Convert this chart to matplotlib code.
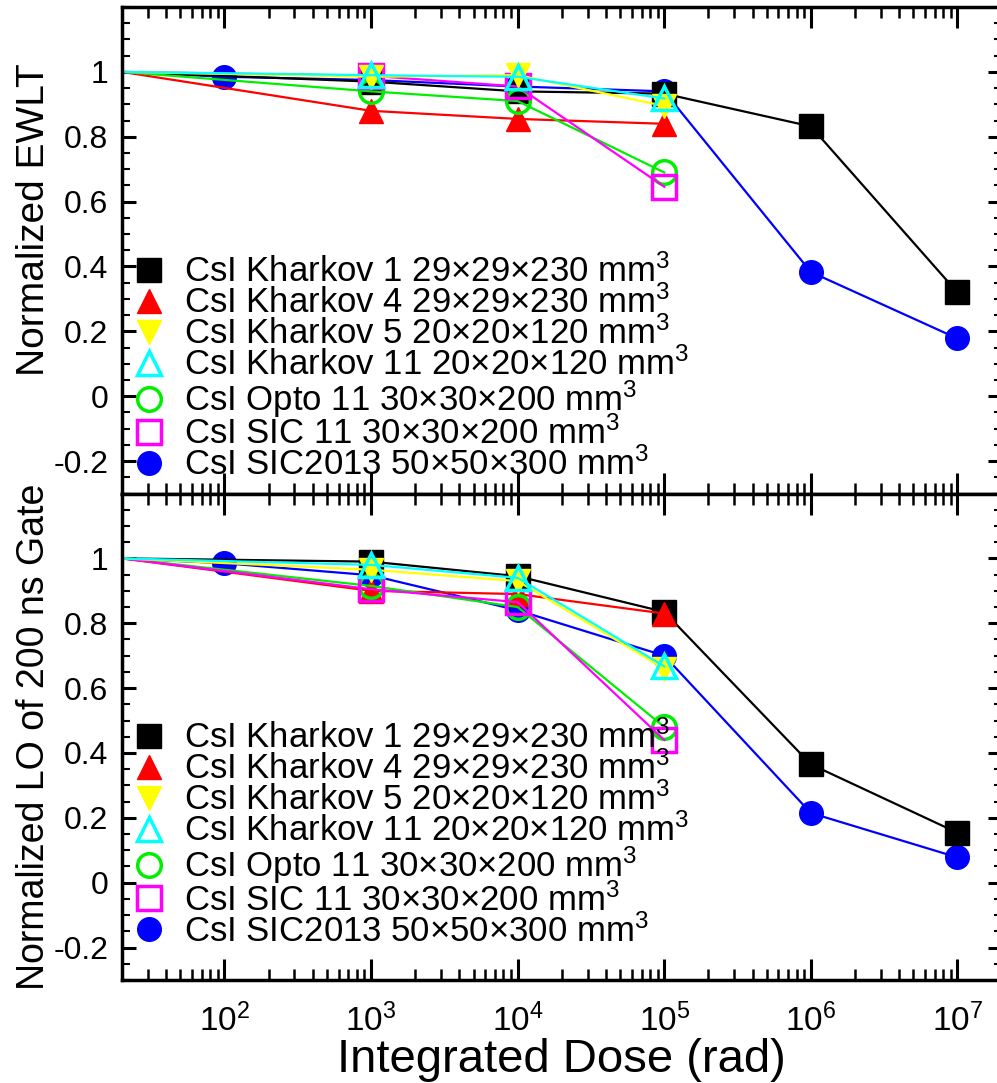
import numpy as np
import matplotlib.pyplot as plt
from matplotlib.lines import Line2D
from matplotlib.ticker import LogLocator, NullFormatter, MultipleLocator, FixedLocator, FuncFormatter

plt.rcParams['font.family'] = ['Liberation Sans', 'DejaVu Sans']
plt.rcParams['mathtext.fontset'] = 'custom'
plt.rcParams['mathtext.rm'] = 'Liberation Sans'
plt.rcParams['mathtext.it'] = 'Liberation Sans:italic'
plt.rcParams['axes.unicode_minus'] = False

# dose points (rad); first point = unirradiated reference at left edge (no marker)
dose_short = [20, 1e3, 1e4, 1e5]
dose_long = [20, 1e3, 1e4, 1e5, 1e6, 1e7]
dose_sic2013 = [20, 1e2, 1e3, 1e4, 1e5, 1e6, 1e7]

# normalized EWLT (top)
ewlt_kharkov1 = [1, 0.97, 0.94, 0.933, 0.832, 0.32]
ewlt_kharkov4 = [1, 0.88, 0.855, 0.84]
ewlt_kharkov5 = [1, 0.985, 0.99, 0.895]
ewlt_kharkov11 = [1, 0.99, 0.985, 0.918]
ewlt_opto11 = [1, 0.94, 0.91, 0.69]
ewlt_sic11 = [1, 0.988, 0.955, 0.646]
ewlt_sic2013 = [1, 0.985, 0.975, 0.955, 0.94, 0.383, 0.178]

# normalized LO, 200 ns gate (bottom)
lo_kharkov1 = [1, 0.99, 0.945, 0.835, 0.365, 0.154]
lo_kharkov4 = [1, 0.9, 0.89, 0.83]
lo_kharkov5 = [1, 0.965, 0.93, 0.66]
lo_kharkov11 = [1, 0.98, 0.94, 0.667]
lo_opto11 = [1, 0.915, 0.85, 0.48]
lo_sic11 = [1, 0.905, 0.865, 0.44]
lo_sic2013 = [1, 0.985, 0.948, 0.84, 0.70, 0.215, 0.078]

labels = ['CsI Kharkov 1 29\u00d729\u00d7230 mm$^3$',
          'CsI Kharkov 4 29\u00d729\u00d7230 mm$^3$',
          'CsI Kharkov 5 20\u00d720\u00d7120 mm$^3$',
          'CsI Kharkov 11 20\u00d720\u00d7120 mm$^3$',
          'CsI Opto 11 30\u00d730\u00d7200 mm$^3$',
          'CsI SIC 11 30\u00d730\u00d7200 mm$^3$',
          'CsI SIC2013 50\u00d750\u00d7300 mm$^3$']

# (color, marker, filled) in legend order
styles = [('black', 's', True),
          ('#ff0000', '^', True),
          ('#ffff00', 'v', True),
          ('#00ffff', '^', False),
          ('#00ee00', 'o', False),
          ('#ff00ff', 's', False),
          ('#0000ff', 'o', True)]

top_data = [(dose_long, ewlt_kharkov1), (dose_short, ewlt_kharkov4), (dose_short, ewlt_kharkov5),
            (dose_short, ewlt_kharkov11), (dose_short, ewlt_opto11), (dose_short, ewlt_sic11),
            (dose_sic2013, ewlt_sic2013)]
bot_data = [(dose_long, lo_kharkov1), (dose_short, lo_kharkov4), (dose_short, lo_kharkov5),
            (dose_short, lo_kharkov11), (dose_short, lo_opto11), (dose_short, lo_sic11),
            (dose_sic2013, lo_sic2013)]

draw_order = [6, 0, 1, 4, 5, 2, 3]
MS = 17

fig, (ax1, ax2) = plt.subplots(2, 1, sharex=True, figsize=(9.97, 10.83), dpi=100)
fig.subplots_adjust(left=0.1224, right=1.0046, top=0.9935, bottom=0.0951, hspace=0)

for ax, data, leg_y in [(ax1, top_data, 0.4915), (ax2, bot_data, 0.533)]:
    for i in draw_order:
        col, mk, filled = styles[i]
        x, y = data[i]
        ax.plot(x, y, color=col, lw=1.6, marker=mk, ms=MS, markevery=list(range(1, len(x))),
                mfc=col if filled else 'none', mec=col, mew=2.5 if not filled else 1)

    handles = [Line2D([], [], ls='none', marker=mk, ms=MS, mfc=col if f else 'none',
                      mec=col, mew=2.5 if not f else 1) for col, mk, f in styles]
    ax.legend(handles, labels, loc='upper left', bbox_to_anchor=(0.015, leg_y),
              frameon=False, fontsize=25, handlelength=0.8, handletextpad=0.6,
              labelspacing=-0.10, borderpad=0, borderaxespad=0)

    ax.set_xscale('log')
    ax.set_xlim(20, 2e7)
    ax.set_ylim(-0.3, 1.2)
    ax.yaxis.set_major_locator(FixedLocator(np.arange(-0.2, 1.01, 0.2)))
    ax.yaxis.set_minor_locator(MultipleLocator(0.05))
    ax.yaxis.set_major_formatter(FuncFormatter(lambda v, p: f'{v:g}'))
    ax.xaxis.set_major_locator(LogLocator(base=10, numticks=20))
    ax.xaxis.set_minor_locator(LogLocator(base=10, subs=np.arange(2, 10), numticks=20))
    ax.xaxis.set_minor_formatter(NullFormatter())

    ax.tick_params(which='both', direction='in', top=True, right=True)
    ax.tick_params(axis='x', which='major', length=15, width=2.2, labelsize=24, pad=17)
    ax.tick_params(axis='x', which='minor', length=8, width=1.8)
    ax.tick_params(axis='y', which='major', length=10, width=2.2, labelsize=23, pad=10)
    ax.tick_params(axis='y', which='minor', length=6, width=1.5)
    for s in ax.spines.values():
        s.set_linewidth(2.5)

ax1.set_ylabel('Normalized EWLT', fontsize=28)
ax2.set_ylabel('Normalized LO of 200 ns Gate', fontsize=27)
ax1.yaxis.set_label_coords(-0.08, 0.563)
ax2.yaxis.set_label_coords(-0.08, 0.5)
ax2.set_xlabel('Integrated Dose (rad)', fontsize=34, labelpad=0)

fig.savefig('out.png', dpi=100)
